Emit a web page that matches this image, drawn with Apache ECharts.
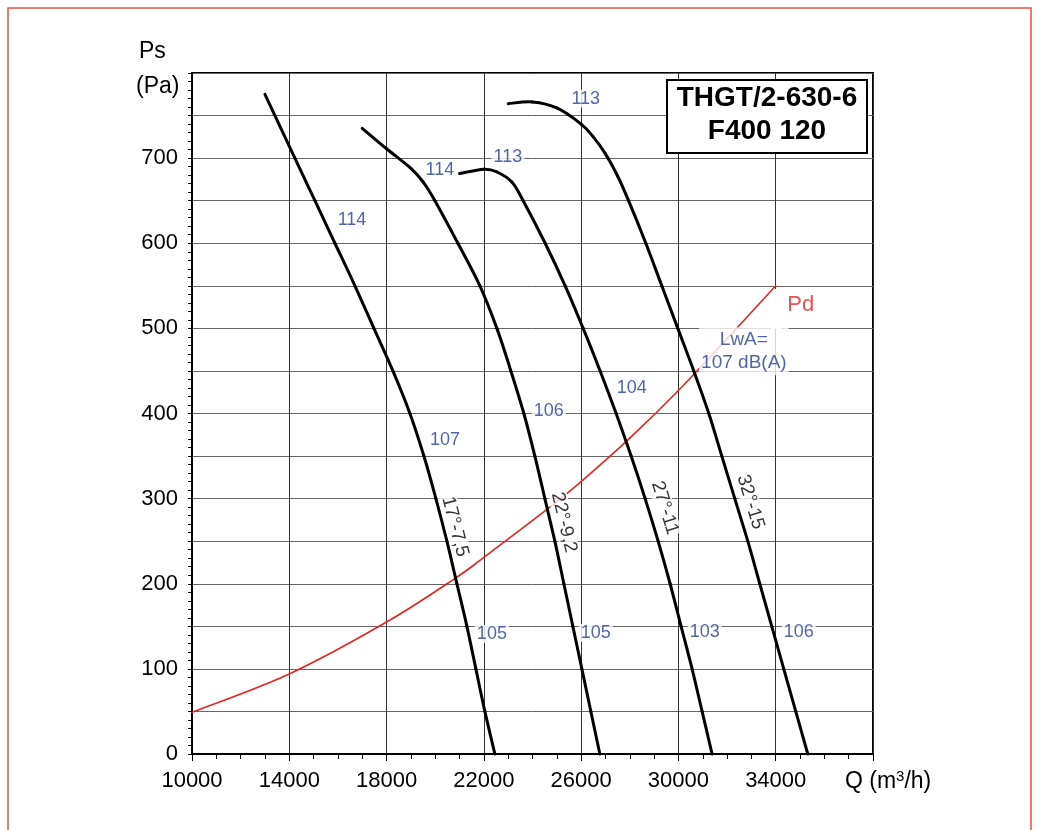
<!DOCTYPE html>
<html><head><meta charset="utf-8">
<script src="https://cdn.jsdelivr.net/npm/echarts@6/dist/echarts.min.js"></script>
<style>html,body{margin:0;padding:0;background:#fff}#c{width:1040px;height:830px}</style>
</head><body><div id="c"></div>
<script>
// ---- data ----
const xTickLabels = [10000,14000,18000,22000,26000,30000,34000];
const yTickLabels = [0,100,200,300,400,500,600,700];

const curveNames = ['17°-7,5','22°-9,2','27°-11','32°-15'];
const curve17 = [[13000,775],[14230,700],[15055,650],[15877,600],[16699,550],[17480,500],[18261,450],[18960,400],[19535,350],[20028,300],[20481,250],[20892,200],[21303,150],[21672,100],[22042,50],[22453,0]];
const curve22 = [[17000,735],[18000,711],[19000,688],[19500,672],[19987,650],[20933,600],[21837,550],[22536,500],[23111,450],[23645,400],[24097,350],[24508,300],[24919,250],[25289,200],[25659,150],[26029,100],[26399,50],[26769,0]];
const curve27 = [[21000,682],[22000,687],[22520,684],[23150,672],[23617,650],[24521,600],[25343,550],[26083,500],[26781,450],[27439,400],[28055,350],[28631,300],[29165,250],[29658,200],[30110,150],[30562,100],[30973,50],[31384,0]];
const curve32 = [[23000,764],[24000,766],[25000,759],[26000,740],[26500,725],[27000,705],[27500,679],[27950,650],[28659,600],[29317,550],[29975,500],[30632,450],[31249,400],[31783,350],[32317,300],[32852,250],[33345,200],[33838,150],[34331,100],[34824,50],[35318,0]];
const pdCurve = [[10000,49],[14000,94],[18000,155],[20850,207],[22000,231],[24580,287],[26000,320],[28000,371],[30000,427],[32000,488],[34000,550]];

const curveLabelQ  = [20810,25290,29440,32960];
const curveLabelPs = [267,272,289,296];

const noiseText = ['114','114','113','113','107','106','104','105','105','103','106'];
const noiseQ    = [16580,20190,22990,26190,20400,24670,28080,22330,26600,31080,34950];
const noisePs   = [627,686,701,770,369,403,430,141,142,143,143];

const lwaText = 'LwA=\n107 dB(A)';
const lwaPoint = [32690,473];
const pdText = 'Pd';
const pdPoint = [35030,527];

// ---- chart ----
const FONT = '"Liberation Sans", Arial, sans-serif';
const BLUE = '#273d92';
const RED = '#e52420';
const chart = echarts.init(document.getElementById('c'), null, {renderer:'canvas'});
const curves = [curve17, curve22, curve27, curve32];

function interpAt(curve, ps){
  for(let i=0;i<curve.length-1;i++){
    const a=curve[i], b=curve[i+1];
    if((a[1]-ps)*(b[1]-ps)<=0 && a[1]!==b[1]) return [a,b];
  }
  return [curve[curve.length-2], curve[curve.length-1]];
}

// smooth curve through the data points, positioned by the chart's own axes (api.coord)
function curveSeries(name, data, color, width, z){
  return {
    type:'custom', name, data, z, silent:true, coordinateSystem:'cartesian2d',
    encode:{x:0, y:1},
    renderItem:(params, api)=>{
      if(params.dataIndexInside !== 0) return null;
      const n = params.dataInsideLength;
      const pts = [];
      for(let i=0;i<n;i++) pts.push(api.coord([api.value(0,i), api.value(1,i)]));
      const children = [];
      for(let i=0;i<n-1;i++){
        const p0=pts[Math.max(i-1,0)], p1=pts[i], p2=pts[i+1], p3=pts[Math.min(i+2,n-1)];
        children.push({type:'bezierCurve', silent:true,
          shape:{x1:p1[0], y1:p1[1], x2:p2[0], y2:p2[1],
            cpx1:p1[0]+(p2[0]-p0[0])/6, cpy1:p1[1]+(p2[1]-p0[1])/6,
            cpx2:p2[0]-(p3[0]-p1[0])/6, cpy2:p2[1]-(p3[1]-p1[1])/6},
          style:{stroke:color, lineWidth:width, fill:'none', lineCap:'round'}});
      }
      return {type:'group', children};
    }
  };
}

function buildOption(rotations){
  const series = curves.map((c,i)=>curveSeries(curveNames[i], c, '#000', 3, 3));
  series.push(curveSeries('Pd', pdCurve, RED, 1.6, 2));
  series.push({type:'scatter', name:'noise', symbolSize:0, z:5, silent:true,
    data: noiseText.map((t,i)=>({value:[noiseQ[i],noisePs[i]], name:t})),
    label:{show:true, position:'inside', formatter:p=>p.name, color:BLUE,
      fontSize:18, fontFamily:FONT, backgroundColor:'#fff', padding:[0,2]}});
  series.push({type:'scatter', name:'curveLabels', symbolSize:0, z:5, silent:true,
    data: curveNames.map((t,i)=>({value:[curveLabelQ[i],curveLabelPs[i]], name:t,
      label:{rotate: rotations ? rotations[i] : -75}})),
    label:{show:true, position:'inside', formatter:p=>p.name, color:'#000',
      fontSize:19, fontFamily:FONT, backgroundColor:'#fff', padding:[0,1]}});
  series.push({type:'scatter', name:'lwa', symbolSize:0, z:6, silent:true,
    data:[{value:lwaPoint, name:lwaText}],
    label:{show:true, position:'inside', formatter:p=>p.name, color:BLUE,
      fontSize:19, lineHeight:23, align:'center', fontFamily:FONT, backgroundColor:'#fff', padding:[1,2]}});
  series.push({type:'scatter', name:'pdlabel', symbolSize:0, z:6, silent:true,
    data:[{value:pdPoint, name:pdText}],
    label:{show:true, position:'inside', formatter:p=>p.name, color:RED,
      fontSize:22, fontFamily:FONT}});

  return {
    animation:false,
    backgroundColor:'#fff',
    grid:{left:192, top:73, right:167, bottom:76, show:true, borderColor:'#000', borderWidth:2, backgroundColor:'#fff'},
    xAxis:{type:'value', min:10000, max:38000, interval:4000,
      axisLine:{show:true, lineStyle:{color:'#000', width:2}},
      axisTick:{show:true, length:7, lineStyle:{color:'#000', width:1}},
      minorTick:{show:true, splitNumber:4, length:5, lineStyle:{color:'#000', width:1}},
      splitLine:{show:true, lineStyle:{color:'#333', width:1}},
      axisLabel:{formatter:v=>xTickLabels.includes(v)?String(v):'', color:'#000', fontSize:22, fontFamily:FONT, margin:16}
    },
    yAxis:{type:'value', min:0, max:800, interval:50,
      axisLine:{show:true, lineStyle:{color:'#000', width:2}},
      axisTick:{show:true, length:4, lineStyle:{color:'#000', width:1}},
      minorTick:{show:true, splitNumber:5, length:4, lineStyle:{color:'#000', width:1}},
      splitLine:{show:true, lineStyle:{color:'#666', width:1}},
      axisLabel:{formatter:v=>yTickLabels.includes(v)?String(v):'', color:'#000', fontSize:22, fontFamily:FONT, margin:14}
    },
    graphic:[
      {type:'rect', z:100, silent:true, shape:{x:8, y:8, width:1023, height:840},
        style:{fill:'none', stroke:'#e5533d', lineWidth:1.5}},
      {type:'rect', z:1, silent:true, shape:{x:771, y:289, width:10, height:40},
        style:{fill:'#fff'}},
      {type:'rect', z:100, silent:true, shape:{x:667, y:80, width:200, height:73},
        style:{fill:'#fff', stroke:'#000', lineWidth:2}},
      {type:'text', z:101, silent:true, x:767, y:82,
        style:{text:'THGT/2-630-6\nF400 120', font:'bold 28px '+FONT, fill:'#000', textAlign:'center', textVerticalAlign:'top', lineHeight:33}},
      {type:'text', z:101, silent:true, x:139, y:52,
        style:{text:'Ps', font:'23px '+FONT, fill:'#000', textAlign:'left', textVerticalAlign:'middle'}},
      {type:'text', z:101, silent:true, x:136, y:87,
        style:{text:'(Pa)', font:'23px '+FONT, fill:'#000', textAlign:'left', textVerticalAlign:'middle'}},
      {type:'text', z:101, silent:true, x:845, y:782,
        style:{text:'{a|Q (m}{s|3}{a|/h)}', textAlign:'left', textVerticalAlign:'middle',
          rich:{a:{fontSize:23, fontFamily:FONT, color:'#000', lineHeight:26},
                s:{fontSize:15, fontFamily:FONT, color:'#000', lineHeight:26, verticalAlign:'top'}}}}
    ],
    series
  };
}

chart.setOption(buildOption(null));
// rotate curve labels to follow each curve's slope at the label height
const rotations = curves.map((c,i)=>{
  const [a,b] = interpAt(c, curveLabelPs[i]);
  const pa = chart.convertToPixel({gridIndex:0}, a);
  const pb = chart.convertToPixel({gridIndex:0}, b);
  const ang = Math.atan2(pb[1]-pa[1], pb[0]-pa[0]) * 180 / Math.PI;
  return -ang;
});
chart.setOption(buildOption(rotations), true);
</script>
</body></html>
